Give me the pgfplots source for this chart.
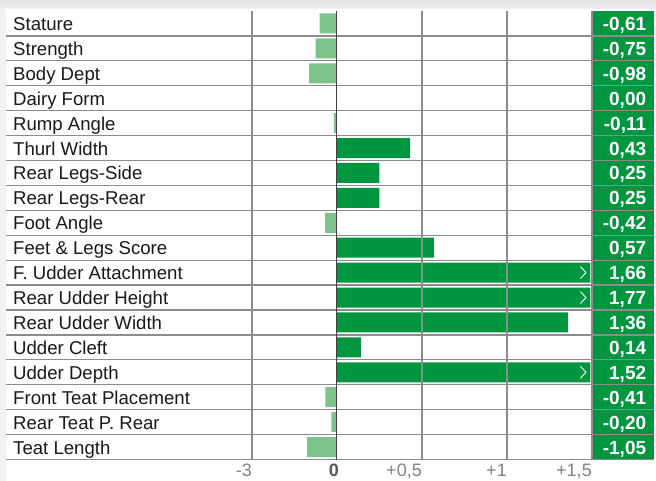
\documentclass[border=0pt]{standalone}
\usepackage{pgfplots}
\pgfplotsset{compat=1.18}
\usepackage{pgfplotstable}
\usepackage{fontspec}
\setmainfont{Liberation Sans}
\definecolor{dkgreen}{RGB}{0,150,64}
\definecolor{ltgreen}{RGB}{125,195,140}
\definecolor{gridgray}{RGB}{140,140,140}
\definecolor{tickgray}{RGB}{130,130,130}
\pgfdeclareplotmark{chev}{%
  \pgfpathmoveto{\pgfqpoint{-2.5pt}{6pt}}%
  \pgfpathlineto{\pgfqpoint{3pt}{0pt}}%
  \pgfpathlineto{\pgfqpoint{-2.5pt}{-6pt}}%
  \pgfusepathqstroke}

\pgfplotstableread[col sep=semicolon]{
row;v;lab;name
0;-0.61;-0,61;Stature
1;-0.75;-0,75;Strength
2;-0.98;-0,98;Body Dept
3;0.00;0,00;Dairy Form
4;-0.11;-0,11;Rump Angle
5;0.43;0,43;Thurl Width
6;0.25;0,25;Rear Legs-Side
7;0.25;0,25;Rear Legs-Rear
8;-0.42;-0,42;Foot Angle
9;0.57;0,57;Feet \& Legs Score
10;1.66;1,66;F. Udder Attachment
11;1.77;1,77;Rear Udder Height
12;1.36;1,36;Rear Udder Width
13;0.14;0,14;Udder Cleft
14;1.52;1,52;Udder Depth
15;-0.41;-0,41;Front Teat Placement
16;-0.20;-0,20;Rear Teat P. Rear
17;-1.05;-1,05;Teat Length
}\data

\begin{document}
\begin{tikzpicture}[font=\fontsize{18}{21}\selectfont]
\path[use as bounding box] (0,0) rectangle (656pt,481pt);
\fill[gray!10] (0,0) rectangle (656pt,481pt);
\shade[top color=gray!22, bottom color=gray!10] (0,472pt) rectangle (656pt,481pt);
\fill[white] (5.5pt,0) rectangle (656pt,472pt);
\begin{axis}[
  at={(5.5pt,21.5pt)}, anchor=south west,
  scale only axis, width=648.5pt, height=448.5pt,
  xmin=-1.95, xmax=1.865, ymin=-0.5, ymax=17.5, y dir=reverse,
  axis line style={draw=none},
  major tick length=0pt, minor tick length=0pt,
  xtick={-0.5,0.5,1,1.5},
  xticklabels={{-3},{+0,5},{+1},{+1,5}},
  extra x ticks={0}, extra x tick labels={\textbf{0}},
  extra x tick style={grid style={draw=black!75, line width=1pt}, xticklabel style={text=black!65, xshift=2pt}},
  xmajorgrids, grid style={draw=gridgray, line width=1.3pt},
  xticklabel style={anchor=base east, inner sep=0pt, text=tickgray, yshift=-16.5pt},
  ytick={0,...,17}, yticklabels from table={\data}{name},
  yticklabel style={anchor=base west, inner sep=0pt, xshift=7.5pt, yshift=-7pt, text=black!90,
    font=\fontsize{18.6}{21}\selectfont},
  minor ytick={0.5,1.5,...,17.5}, yminorgrids,
  minor grid style={draw=gridgray, line width=1.3pt},
  axis on top,
]
\fill[dkgreen] (axis cs:1.5,-0.5) rectangle (axis cs:1.865,17.5);
\addplot[xbar, bar width=20pt, bar shift=0pt, fill=ltgreen, draw=none]
  table[x expr={\thisrow{v}<0 ? \thisrow{v}/6 : nan}, y=row] {\data};
\addplot[xbar, bar width=20pt, bar shift=0pt, fill=dkgreen, draw=none]
  table[x expr={\thisrow{v}>0 ? min(\thisrow{v},1.49) : nan}, y=row] {\data};
\addplot[only marks, mark=chev, mark options={draw=white, line width=0.9pt}]
  table[x expr={\thisrow{v}>1.5 ? 1.447 : nan}, y=row] {\data};
\addplot[draw=none, mark=none, nodes near coords, point meta=explicit symbolic,
  nodes near coords style={anchor=base east, inner sep=0pt, text=white,
    font=\fontsize{19}{21}\selectfont\bfseries, yshift=-7pt}]
  table[x expr=1.82, y=row, meta=lab] {\data};
\end{axis}
\end{tikzpicture}
\end{document}
